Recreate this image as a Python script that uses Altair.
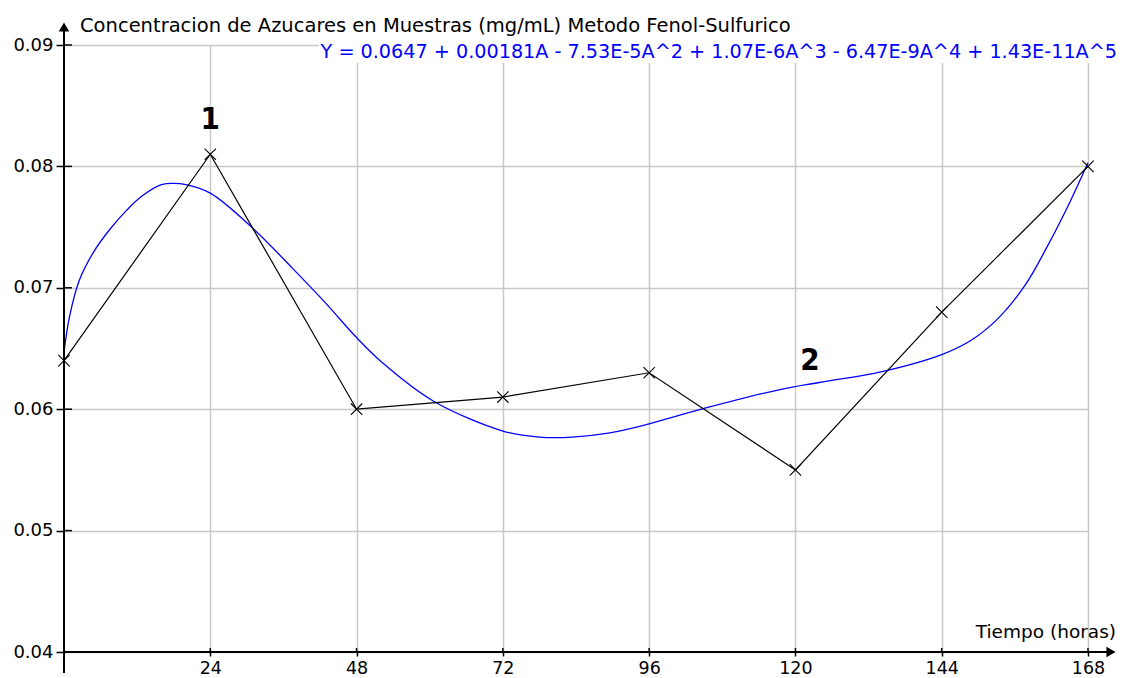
import altair as alt
import pandas as pd

# Measured points (black line with X markers)
hours = [0, 24, 48, 72, 96, 120, 144, 168]
conc = [0.064, 0.081, 0.060, 0.061, 0.063, 0.055, 0.068, 0.080]

# Fitted polynomial curve (blue)
fit_hours = [0, 0.9, 2.5, 4.8, 7.5, 10.3, 12.9, 16, 18, 20, 24, 31, 37.5, 43, 48,
             52.3, 60.5, 72, 78, 83.4, 89, 96, 105.3, 117.3, 123.9, 134.2, 144,
             148.9, 153.3, 157.8, 161, 164.3, 168]
fit_conc = [0.0647, 0.0676, 0.0706, 0.0729, 0.0748, 0.0764, 0.0776, 0.0785, 0.0786,
            0.0785, 0.0778, 0.0749, 0.0716, 0.0687, 0.0659, 0.0638, 0.0607, 0.0582,
            0.0577, 0.0577, 0.0580, 0.0588, 0.0601, 0.0616, 0.0622, 0.0631, 0.0645,
            0.0657, 0.0675, 0.0703, 0.0731, 0.0763, 0.0803]

x_ticks = [24, 48, 72, 96, 120, 144, 168]
y_ticks = [0.04, 0.05, 0.06, 0.07, 0.08, 0.09]

label_text = ["1", "2"]
label_hours = [24, 122.4]
label_conc = [0.0831, 0.0632]

title_text = "Concentracion de Azucares en Muestras (mg/mL) Metodo Fenol-Sulfurico"
equation_text = "Y = 0.0647 + 0.00181A - 7.53E-5A^2 + 1.07E-6A^3 - 6.47E-9A^4 + 1.43E-11A^5"
x_title = "Tiempo (horas)"

FONT = "DejaVu Sans"
GRID = "#c8c8c8"
W, H = 1024, 607

meas = pd.DataFrame({"hours": hours, "conc": conc})
fit = pd.DataFrame({"hours": fit_hours, "conc": fit_conc})
labels = pd.DataFrame({"hours": label_hours, "conc": label_conc, "t": label_text})
yt = pd.DataFrame({"conc": y_ticks})
xt = pd.DataFrame({"hours": x_ticks})
one = pd.DataFrame({"k": [0]})

xs = alt.Scale(domain=[0, 168], nice=False, zero=False)
ys = alt.Scale(domain=[0.04, 0.09], nice=False, zero=False)

x_axis = alt.Axis(values=x_ticks, grid=True, gridColor=GRID, gridWidth=1.5,
                  domain=False, ticks=True, tickColor="black", tickSize=4,
                  tickWidth=1.5, labelFont=FONT, labelFontSize=17.5,
                  labelColor="black", labelPadding=3, title=None, labelFlush=False)
y_axis = alt.Axis(values=y_ticks, format=".2f", grid=True, gridColor=GRID,
                  gridWidth=1.5, domain=False, ticks=True, tickColor="black",
                  tickSize=8, tickWidth=1.5, labelFont=FONT, labelFontSize=18,
                  labelColor="black", labelPadding=3, title=None, labelFlush=False)

X = alt.X("hours:Q", scale=xs, axis=x_axis)
Y = alt.Y("conc:Q", scale=ys, axis=y_axis)

blue = alt.Chart(fit).mark_line(color="#0000ff", strokeWidth=1.3,
                                interpolate="catmull-rom").encode(x=X, y=Y)
black = alt.Chart(meas).mark_line(color="black", strokeWidth=1.2).encode(x=X, y=Y)
marks = alt.Chart(meas).mark_point(shape="M-1,-1L1,1M-1,1L1,-1", size=130,
                                   filled=False, color="black",
                                   strokeWidth=1.1, opacity=1).encode(x=X, y=Y)
num = alt.Chart(labels).mark_text(font="Liberation Sans Narrow, DejaVu Sans Condensed, sans-serif",
                                  fontSize=31, fontWeight="bold", color="black",
                                  align="center", baseline="alphabetic").encode(
    x=X, y=Y, text="t:N")

# inward ticks
ytick_in = alt.Chart(yt).mark_rule(color="black", strokeWidth=1.5).encode(
    y=Y, x=alt.value(0), x2=alt.value(8))
xtick_in = alt.Chart(xt).mark_rule(color="black", strokeWidth=1.5).encode(
    x=X, y=alt.value(H), y2=alt.value(H - 4))

# axis lines with arrows
xline = alt.Chart(one).mark_rule(color="black", strokeWidth=2).encode(
    x=alt.value(0), x2=alt.value(1046), y=alt.value(H))
yline = alt.Chart(one).mark_rule(color="black", strokeWidth=2).encode(
    x=alt.value(0), y=alt.value(-16), y2=alt.value(H + 21))
yarrow = alt.Chart(one).mark_point(shape="triangle-up", size=110, filled=True,
                                   color="black", opacity=1).encode(
    x=alt.value(0), y=alt.value(-18))
xarrow = alt.Chart(one).mark_point(shape="triangle-right", size=110, filled=True,
                                   color="black", opacity=1).encode(
    x=alt.value(1047), y=alt.value(H))

# equation with white background
eq_bg = alt.Chart(one).mark_rect(color="white", opacity=1).encode(
    x=alt.value(255), x2=alt.value(1045), y=alt.value(-7), y2=alt.value(18))
eq = alt.Chart(one).mark_text(text=equation_text, font=FONT, fontSize=19.2,
                              fontWeight="normal", color="#0000ff", align="right",
                              baseline="alphabetic").encode(
    x=alt.value(1053), y=alt.value(13))
title = alt.Chart(one).mark_text(text=title_text, font=FONT, fontSize=19.5,
                                 fontWeight="normal", color="black", align="left",
                                 baseline="alphabetic").encode(
    x=alt.value(16), y=alt.value(-13))
xtitle = alt.Chart(one).mark_text(text=x_title, font=FONT, fontSize=18.5,
                                  fontWeight="normal", color="black", align="right",
                                  baseline="alphabetic").encode(
    x=alt.value(1052), y=alt.value(H - 14))

chart = alt.layer(
    eq_bg, blue, black, marks, num, ytick_in, xtick_in,
    xline, yline, yarrow, xarrow, eq, title, xtitle
).properties(
    width=W, height=H,
    autosize=alt.AutoSizeParams(type="none"),
    padding={"left": 56, "top": 37, "right": 29, "bottom": 26},
    background="white",
).configure_view(stroke=None)

chart.save("out.html", embed_options={"renderer": "svg", "actions": False})
